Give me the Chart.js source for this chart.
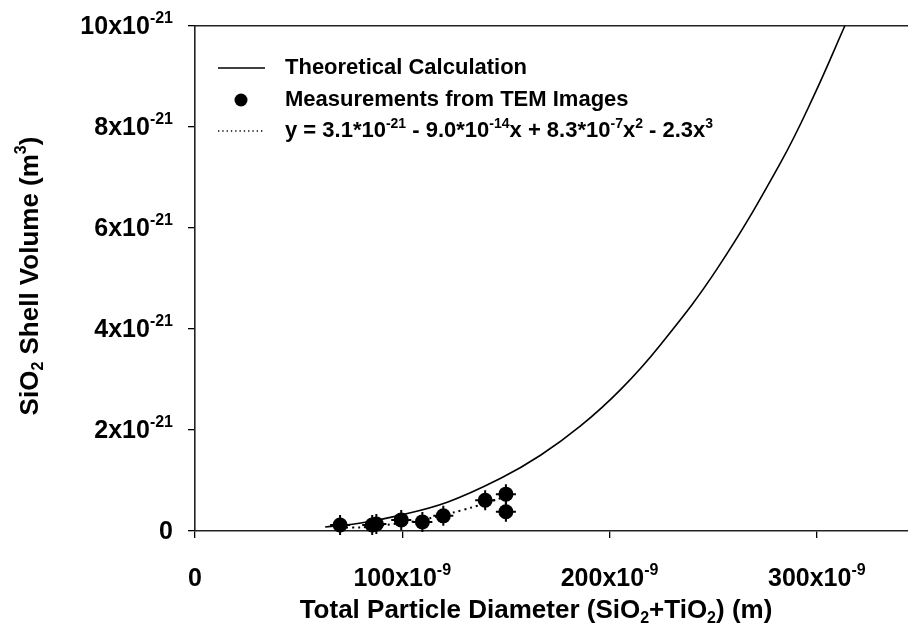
<!DOCTYPE html>
<html><head><meta charset="utf-8">
<script src="https://cdn.jsdelivr.net/npm/chart.js@4"></script>
<style>html,body{margin:0;padding:0;background:#fff}canvas{display:block}</style>
</head><body>
<canvas id="c" width="908" height="636"></canvas>
<script>
// x values in units of 1e-9 m, y values in units of 1e-21 m^3
const theoryX = [62.8, 80, 97.6, 121.7, 147.3, 166.7, 186, 205.3, 224.6, 252.2, 282.6, 298.6, 313.5];
const theoryY = [0.08, 0.16, 0.30, 0.57, 1.04, 1.50, 2.08, 2.80, 3.69, 5.21, 7.30, 8.62, 10.0];
const measX = [70, 85.5, 87.5, 99.5, 109.7, 119.8, 140, 150, 150];
const measY = [0.12, 0.12, 0.14, 0.22, 0.18, 0.30, 0.61, 0.73, 0.38];
const fitX = [70, 80, 92, 104, 113, 125, 133, 140, 146, 150];
const fitY = [0.07, 0.07, 0.12, 0.18, 0.25, 0.37, 0.46, 0.55, 0.63, 0.68];
const xTicks = [0, 100, 200, 300];
const xTickBase = ['0', '100x10', '200x10', '300x10'];
const xTickSup = ['', '-9', '-9', '-9'];
const yTicks = [0, 2, 4, 6, 8, 10];
const yTickBase = ['0', '2x10', '4x10', '6x10', '8x10', '10x10'];
const yTickSup = ['', '-21', '-21', '-21', '-21', '-21'];
const legendLabels = ['Theoretical Calculation', 'Measurements from TEM Images'];

const FAM = '"Liberation Sans", Arial, Helvetica, sans-serif';
const TICK = 25, TICKSUP = 16, LEG = 22, LEGSUP = 14, TIT = 26, TITSUB = 16;

function toPts(xs, ys) { return xs.map((x, i) => ({x: x, y: ys[i]})); }

function richWidth(ctx, segs) {
  let w = 0;
  segs.forEach(s => { ctx.font = 'bold ' + s.size + 'px ' + FAM; w += ctx.measureText(s.t).width; });
  return w;
}
function drawRich(ctx, segs, x, y, align) {
  const w = richWidth(ctx, segs);
  let cx = align === 'right' ? x - w : (align === 'center' ? x - w / 2 : x);
  ctx.textBaseline = 'middle';
  ctx.textAlign = 'left';
  segs.forEach(s => {
    ctx.font = 'bold ' + s.size + 'px ' + FAM;
    ctx.fillText(s.t, cx, y + (s.dy || 0));
    cx += ctx.measureText(s.t).width;
  });
}
const N = (t, size) => ({t, size});
const SUP = (t, size, dy) => ({t, size, dy: dy});

const textPlugin = {
  id: 'txt',
  afterDraw(chart) {
    const ctx = chart.ctx;
    const xs = chart.scales.x, ys = chart.scales.y;
    ctx.save();
    ctx.fillStyle = '#000';
    yTicks.forEach((v, i) => {
      const py = ys.getPixelForValue(v);
      const segs = [N(yTickBase[i], TICK)];
      if (yTickSup[i]) segs.push(SUP(yTickSup[i], TICKSUP, -8));
      drawRich(ctx, segs, 173, py + 1, 'right');
    });
    xTicks.forEach((v, i) => {
      const px = xs.getPixelForValue(v);
      const segs = [N(xTickBase[i], TICK)];
      if (xTickSup[i]) segs.push(SUP(xTickSup[i], TICKSUP, -8));
      drawRich(ctx, segs, px, 579, 'center');
    });
    drawRich(ctx, [N('Total Particle Diameter (SiO', TIT), SUP('2', TITSUB, 8), N('+TiO', TIT), SUP('2', TITSUB, 8), N(') (m)', TIT)], 536, 611, 'center');
    ctx.save();
    ctx.translate(31, 276);
    ctx.rotate(-Math.PI / 2);
    drawRich(ctx, [N('SiO', TIT), SUP('2', TITSUB, 8), N(' Shell Volume (m', TIT), SUP('3', TITSUB, -9), N(')', TIT)], 0, 0, 'center');
    ctx.restore();
    // legend
    ctx.strokeStyle = '#000';
    ctx.lineWidth = 1.3;
    ctx.beginPath(); ctx.moveTo(218, 68); ctx.lineTo(265, 68); ctx.stroke();
    ctx.beginPath(); ctx.arc(241, 100, 6.5, 0, Math.PI * 2); ctx.fill();
    ctx.setLineDash([1.3, 3]);
    ctx.beginPath(); ctx.moveTo(218, 131); ctx.lineTo(265, 131); ctx.stroke();
    ctx.setLineDash([]);
    drawRich(ctx, [N(legendLabels[0], LEG)], 285, 68, 'left');
    drawRich(ctx, [N(legendLabels[1], LEG)], 285, 100, 'left');
    drawRich(ctx, [N('y = 3.1*10', LEG), SUP('-21', LEGSUP, -7), N(' - 9.0*10', LEG), SUP('-14', LEGSUP, -7), N('x + 8.3*10', LEG), SUP('-7', LEGSUP, -7), N('x', LEG), SUP('2', LEGSUP, -7), N(' - 2.3x', LEG), SUP('3', LEGSUP, -7)], 285, 131, 'left');
    ctx.restore();
  }
};

new Chart(document.getElementById('c'), {
  type: 'line',
  data: {
    datasets: [
      {data: toPts(theoryX, theoryY), borderColor: '#000', borderWidth: 1.6, pointRadius: 0, tension: 0.4, fill: false},
      {data: toPts(fitX, fitY), borderColor: '#000', borderWidth: 2, borderDash: [2, 4], pointRadius: 0, tension: 0.3, fill: false},
      {data: toPts(measX, measY), showLine: false, pointRadius: 10, pointStyle: 'cross', pointBorderWidth: 2, pointBorderColor: '#000', clip: false},
      {data: toPts(measX, measY), showLine: false, pointRadius: 7.5, pointStyle: 'circle', pointBackgroundColor: '#000', pointBorderColor: '#000', pointBorderWidth: 0, clip: false}
    ]
  },
  options: {
    responsive: false,
    animation: false,
    layout: {autoPadding: false, padding: {left: 188, right: 0, top: 26, bottom: 98}},
    plugins: {legend: {display: false}, tooltip: {enabled: false}},
    scales: {
      x: {
        type: 'linear', position: 'bottom', min: 0, max: 344,
        afterBuildTicks: s => { s.ticks = xTicks.map(v => ({value: v})); },
        ticks: {display: false},
        grid: {drawOnChartArea: false, drawTicks: true, tickLength: 7, color: '#000', lineWidth: 1.3},
        border: {color: '#222', width: 1.6}
      },
      x2: {
        type: 'linear', position: 'top', min: 0, max: 344,
        ticks: {display: false},
        grid: {display: false, drawTicks: false},
        border: {display: true, color: '#222', width: 1.6}
      },
      y: {
        type: 'linear', min: 0, max: 10,
        afterBuildTicks: s => { s.ticks = yTicks.map(v => ({value: v})); },
        ticks: {display: false},
        grid: {drawOnChartArea: false, drawTicks: true, tickLength: 7, color: '#000', lineWidth: 1.3},
        border: {color: '#222', width: 1.6}
      }
    }
  },
  plugins: [textPlugin]
});
</script>
</body></html>
